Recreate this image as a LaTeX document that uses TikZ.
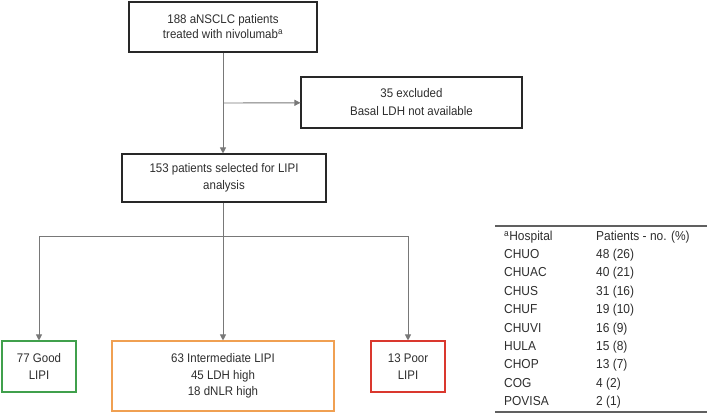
\documentclass[tikz,border=0pt]{standalone}
\usepackage{fontspec}
\setmainfont{Liberation Sans}[FakeStretch=0.92]
\usetikzlibrary{arrows.meta}

\definecolor{goodgreen}{RGB}{64,160,76}
\definecolor{midorange}{RGB}{240,160,82}
\definecolor{poorred}{RGB}{218,56,46}
\definecolor{linegray}{RGB}{120,120,120}
\definecolor{boxgray}{RGB}{40,40,40}
\definecolor{textgray}{RGB}{45,45,45}

\tikzset{
  flowbox/.style={draw=boxgray, text=textgray, line width=1.1pt, align=center, inner sep=0pt,
    font=\fontsize{12.5}{16.5}\selectfont},
  link/.style={draw=linegray, line width=0.9pt},
  arr/.style={link, -{Triangle[length=6pt,width=6pt]}},
  cell/.style={anchor=base west, text=textgray, inner sep=0pt, font=\fontsize{13}{15}\selectfont}
}

\begin{document}
\begin{tikzpicture}[x=1pt, y=-1pt]
  \useasboundingbox (0, 0) rectangle (710, 413);
  % flow chart boxes
  \node [flowbox, font=\fontsize{12.5}{15}\selectfont, minimum width=188, minimum height=50] (total) at (223, 27)
    {188 aNSCLC patients\\treated with nivolumab\textsuperscript{a}};
  \node [flowbox, font=\fontsize{12.5}{18}\selectfont, minimum width=221, minimum height=51] (excl) at (411.5, 102.5)
    {35 excluded\\Basal LDH not available};
  \node [flowbox, minimum width=204, minimum height=48] (sel) at (224, 178)
    {153 patients selected for LIPI\\analysis};
  \node [flowbox, draw=goodgreen, minimum width=74, minimum height=51] (good) at (39, 366.5)
    {77 Good\\LIPI};
  \node [flowbox, draw=midorange, minimum width=222, minimum height=70] (inter) at (223, 376)
    {63 Intermediate LIPI\\45 LDH high\\18 dNLR high};
  \node [flowbox, draw=poorred, minimum width=74, minimum height=51] (poor) at (408, 366.5)
    {13 Poor\\LIPI};
  % branch points
  \coordinate (fork) at (223, 103);
  \coordinate (split) at (223, 236);
  \coordinate (lft) at (39, 236);
  \coordinate (rgt) at (408, 236);
  \draw [arr] (total.south -| fork) -- (sel.north -| fork);
  \draw [arr] (fork) -- (excl);
  \draw [link] (sel.south -| split) -- (split);
  \draw [link] (lft) -- (rgt);
  \draw [arr] (split) -- (inter);
  \draw [arr] (lft) -- (good);
  \draw [arr] (rgt) -- (poor);
  % hospital table
  \coordinate (tl) at (495, 226);
  \coordinate (tr) at (707, 226);
  \coordinate (bl) at (495, 412);
  \coordinate (br) at (707, 412);
  \draw [draw=linegray!80!black, line width=1.2pt] (tl) -- (tr);
  \draw [draw=linegray!80!black, line width=1.2pt] (bl) -- (br);
  \node [cell] (hhosp) at (504, 240.5) {\textsuperscript{a}Hospital};
  \node [cell] (hpat) at (596, 240.5) {Patients - no. (\%)};
  \foreach \name/\val [count=\i from 0] in {CHUO/48 (26), CHUAC/40 (21), CHUS/31 (16),
      CHUF/19 (10), CHUVI/16 (9), HULA/15 (8), CHOP/13 (7), COG/4 (2), POVISA/2 (1)} {
    \node [cell] (h\i) at (504, 258.5 + 18.4*\i) {\name};
    \node [cell] (p\i) at (596, 258.5 + 18.4*\i) {\val};
  }
\end{tikzpicture}
\end{document}
